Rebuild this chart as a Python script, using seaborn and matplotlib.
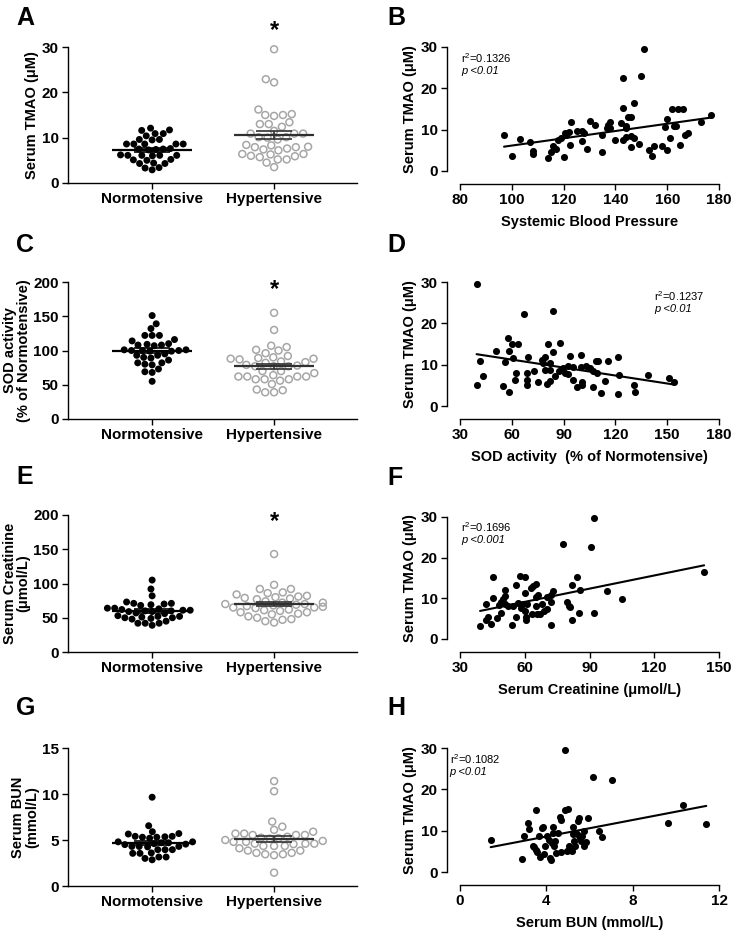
import matplotlib
matplotlib.use('Agg')
import matplotlib.pyplot as plt
import numpy as np
import pandas as pd
import seaborn as sns

# Group dot plots (left column)
groups = ['Normotensive', 'Hypertensive']

tmao_normo = [12.1, 11.7, 11.6, 10.9, 10.9, 10.4, 9.6, 9.6, 9.5, 8.6, 8.6, 8.6, 8.6, 8.6, 7.5, 7.4, 7.6,
              7.3, 7.5, 6.1, 6.1, 6.1, 6.0, 6.1, 6.2, 5.2, 5.1, 5.0, 4.3, 4.4, 4.3, 3.4, 3.3, 2.9]
tmao_hyper = [29.5, 22.9, 22.2, 16.2, 15.2, 15.0, 15.0, 14.8, 13.4, 13.0, 13.0, 12.4, 11.5, 10.9, 10.9,
              10.9, 10.1, 10.1, 10.0, 9.6, 8.4, 8.3, 8.0, 7.9, 7.9, 7.6, 7.4, 7.2, 6.4, 6.4, 6.3, 6.0,
              5.9, 5.7, 5.2, 5.2, 4.5, 3.5]

sod_normo = [151, 139, 132, 122, 122, 122, 116, 114, 110, 109, 108, 108, 107, 101, 100, 100, 99, 100,
             101, 99, 93, 93, 95, 90, 89, 86, 82, 82, 80, 79, 73, 68, 69, 55]
sod_hyper = [155, 130, 107, 105, 101, 100, 96, 92, 90, 89, 88, 88, 87, 84, 83, 82, 79, 78, 77, 77, 77,
             70, 70, 67, 64, 62, 62, 62, 62, 58, 58, 58, 56, 51, 43, 42, 39, 39]

creat_normo = [105, 92, 82, 73, 71, 71, 70, 69, 68, 64, 64, 63, 62, 61, 61, 60, 60, 59, 59, 57, 56, 53,
               52, 52, 51, 50, 50, 49, 48, 45, 42, 42, 42, 39]
creat_hyper = [143, 98, 92, 92, 87, 86, 84, 82, 81, 80, 79, 78, 77, 74, 72, 72, 70, 70, 69, 68, 67, 66,
               65, 65, 64, 62, 61, 60, 58, 58, 56, 55, 52, 50, 48, 47, 45, 43]

bun_normo = [9.65, 6.55, 5.9, 5.7, 5.65, 5.4, 5.4, 5.35, 5.3, 5.3, 5.2, 4.8, 4.8, 4.7, 4.7, 4.6, 4.55,
             4.5, 4.3, 4.3, 4.3, 4.25, 3.95, 3.95, 3.95, 3.6, 3.55, 3.55, 3.15, 3.15, 3.0, 2.85]
bun_hyper = [11.4, 10.3, 7.0, 6.45, 6.1, 5.9, 5.7, 5.7, 5.55, 5.55, 5.55, 5.35, 5.25, 5.2, 5.15, 5.0,
             4.9, 4.8, 4.8, 4.6, 4.6, 4.6, 4.55, 4.35, 4.35, 4.35, 4.1, 3.85, 3.85, 3.6, 3.6, 3.45,
             3.45, 3.35, 1.45]

# Correlations (right column)
sbp_x = [97, 100, 103, 107, 108, 108, 114, 115, 116, 117, 118, 119, 120, 120.4, 121, 122, 122.3, 123,
         125, 127, 127, 128, 129, 130, 132, 135, 135, 136.6, 137, 138, 138, 140, 142, 143, 143, 143,
         144, 144, 144, 145, 146, 146, 146, 147, 147, 149, 150, 151, 153, 154, 155, 158, 159, 160,
         160, 161, 162, 162.6, 163.5, 164, 165, 166, 167, 168, 173, 177]
sbp_tmao = [8.8, 3.6, 7.7, 6.9, 4.9, 4.2, 3.2, 4.6, 6.1, 5.4, 7.6, 8.1, 3.4, 9.1, 8.7, 9.4, 6.2, 11.9,
            9.7, 9.7, 7.3, 9.1, 5.4, 12.2, 11.1, 8.8, 4.6, 10.3, 11.1, 11.8, 10.5, 7.5, 11.6, 22.5,
            15.3, 7.5, 10.9, 10.3, 8.3, 13.1, 13.1, 8.4, 5.8, 16.4, 8.1, 6.5, 23.0, 29.6, 5.2, 3.6,
            6.0, 6.0, 10.6, 12.6, 5.0, 7.9, 14.9, 10.9, 10.9, 14.9, 6.2, 14.9, 8.7, 9.1, 11.8, 13.5]

sod_x = [39.6, 39.8, 41.8, 43.1, 50.6, 54.7, 55.8, 57.8, 58.3, 58.5, 60.3, 60.6, 62.2, 61.6, 63.7,
         66.8, 68.6, 68.6, 68.6, 69.5, 73.0, 75.3, 77.6, 78.0, 79.5, 79.5, 80.3, 81.1, 82.0, 82.2,
         82.4, 83.8, 83.8, 85.3, 87.1, 87.8, 89.4, 91.0, 92.3, 93.6, 92.7, 95.4, 95.5, 97.7, 99.8,
         100.2, 100.8, 100.8, 103.1, 105.2, 107.3, 107.3, 108.5, 109.6, 109.8, 111.7, 114.1, 115.8,
         121.6, 121.4, 121.8, 130.6, 131.6, 138.7, 151.1, 153.8]
sod_tmao = [29.6, 5.0, 10.9, 7.3, 13.4, 4.8, 10.6, 16.4, 3.5, 13.2, 14.9, 11.6, 8.0, 6.4, 14.9, 22.3,
            5.2, 6.2, 7.9, 11.8, 8.5, 5.8, 11.1, 10.5, 11.9, 8.7, 5.3, 15.0, 8.7, 10.5, 6.0, 23.1,
            13.1, 7.2, 8.4, 15.3, 9.1, 8.0, 7.7, 12.1, 9.7, 9.5, 6.2, 4.5, 12.4, 9.5, 5.8, 5.0, 9.7,
            9.3, 8.5, 4.5, 10.8, 8.0, 10.9, 3.2, 6.1, 10.9, 11.8, 3.0, 7.5, 5.0, 3.5, 7.5, 6.7, 5.8]

creat_x = [39.3, 42.0, 42.0, 43.0, 44.2, 45.1, 45.1, 47.0, 48.2, 48.8,
           49.1, 50.1, 50.8, 50.8, 50.8, 52.4, 53.9, 54.4, 55.9, 55.9,
           57.0, 57.8, 58.2, 59.3, 60.1, 60.1, 60.1, 60.5, 60.8, 61.2,
           63.0, 63.2, 63.9, 65.0, 65.0, 65.0, 65.8, 66.2, 67.0, 68.1,
           68.9, 70.1, 70.1, 72.0, 72.1, 72.1, 72.9, 77.8, 79.8, 80.6,
           80.9, 82.0, 82.0, 84.0, 85.1, 85.8, 90.9, 92.0, 92.0, 98.2,
           105.1, 143.1]
creat_tmao = [3.3, 8.6, 4.7, 5.5, 3.7, 15.2, 10.0, 5.1, 8.4, 6.5,
              9.2, 9.8, 10.6, 12.1, 8.6, 8.1, 3.4, 8.2, 5.4, 13.3,
              8.8, 15.5, 7.6, 8.6, 15.3, 11.2, 6.8, 5.5, 4.7, 8.6,
              12.5, 6.2, 13.0, 13.5, 10.3, 8.0, 6.2, 10.8, 6.2, 8.6,
              6.8, 7.4, 10.4, 9.0, 3.5, 10.8, 11.9, 23.3, 9.2, 8.1,
              7.8, 13.3, 4.6, 15.2, 6.5, 12.1, 22.7, 29.8, 6.4, 11.8,
              9.9, 16.5]

bun_x = [1.42, 2.85, 2.98, 3.16, 3.19, 3.36, 3.44, 3.50, 3.50, 3.55,
         3.67, 3.70, 3.81, 3.86, 3.89, 3.93, 4.01, 4.12, 4.16, 4.20,
         4.24, 4.29, 4.32, 4.35, 4.40, 4.47, 4.55, 4.63, 4.66, 4.69,
         4.86, 4.87, 4.94, 5.01, 5.04, 5.17, 5.24, 5.24, 5.28, 5.32,
         5.40, 5.45, 5.50, 5.55, 5.60, 5.65, 5.74, 5.75, 5.83, 5.91,
         6.14, 6.43, 6.59, 7.03, 9.63, 10.32, 11.41]
bun_tmao = [7.8, 3.2, 8.6, 11.9, 10.5, 6.4, 6.0, 15.1, 5.4, 4.8,
            8.6, 3.6, 10.6, 10.9, 4.4, 6.2, 8.8, 7.7, 3.4, 3.0,
            7.0, 9.4, 11.0, 6.2, 7.4, 4.6, 9.4, 13.3, 12.7, 4.8,
            14.9, 29.4, 5.0, 15.3, 6.2, 5.0, 11.0, 9.3, 7.4, 6.2,
            9.3, 12.3, 13.1, 8.2, 7.4, 8.6, 6.2, 9.8, 7.2, 13.1,
            23.0, 10.0, 8.5, 22.3, 11.9, 16.3, 11.6]

sns.set_theme(style='ticks')
plt.rcParams['font.family'] = ['Liberation Sans', 'DejaVu Sans']
plt.rcParams['mathtext.fontset'] = 'custom'
plt.rcParams['mathtext.rm'] = 'Liberation Sans'
plt.rcParams['axes.linewidth'] = 1.0
plt.rcParams['axes.edgecolor'] = 'black'
plt.rcParams['text.color'] = 'black'
plt.rcParams['axes.labelcolor'] = 'black'
plt.rcParams['xtick.color'] = 'black'
plt.rcParams['ytick.color'] = 'black'

W, H = 733, 933
fig = plt.figure(figsize=(W / 100, H / 100), dpi=100)


def px_axes(left, top, right, bottom):
    return fig.add_axes([left / W, 1 - bottom / H, (right - left) / W, (bottom - top) / H])


def style_ticks(ax):
    ax.tick_params(direction='out', length=4, width=1.0, colors='black', labelsize=11, pad=2.5)
    for lab in ax.get_xticklabels() + ax.get_yticklabels():
        lab.set_fontweight('bold')
    sns.despine(ax=ax)


def strip_panel(ax, normo, hyper, ymax, yticks, ylabel, star):
    df = pd.DataFrame({'group': [groups[0]] * len(normo) + [groups[1]] * len(hyper),
                       'value': list(normo) + list(hyper)})
    sns.swarmplot(data=df, x='group', y='value', order=groups, hue='group', hue_order=groups,
                  palette={groups[0]: 'black', groups[1]: '#a6a6a6'}, size=5, ax=ax,
                  legend=False, clip_on=False, linewidth=0)
    pts = ax.collections[1]
    pts.set_facecolor('none')
    pts.set_edgecolor('#a6a6a6')
    pts.set_linewidth(1.1)
    for i, (vals, col) in enumerate([(normo, 'black'), (hyper, '#303030')]):
        m = np.mean(vals)
        se = np.std(vals, ddof=1) / np.sqrt(len(vals))
        ax.hlines(m, i - 0.33, i + 0.33, color=col, lw=1.6, zorder=5)
        ax.errorbar(i, m, yerr=se, color=col, capsize=13, capthick=1.2, lw=1.2, zorder=5)
    ax.set_xlim(-0.69, 1.68)
    ax.set_ylim(0, ymax)
    ax.set_yticks(yticks)
    ax.set_xlabel('')
    ax.set_ylabel(ylabel, fontsize=10.5, fontweight='bold', labelpad=2, linespacing=1.0)
    if star is not None:
        ax.text(1, star, '*', ha='center', va='center', fontsize=17, fontweight='bold',
                clip_on=False)
    style_ticks(ax)


def reg_panel(ax, x, y, xlim, xticks, xlabel, r2, p, text_pos):
    sns.regplot(x=np.array(x), y=np.array(y), ax=ax, ci=None, color='black',
                scatter_kws={'s': 26, 'linewidths': 0, 'clip_on': False, 'alpha': 1},
                line_kws={'lw': 1.5})
    ax.set_xlim(*xlim)
    ax.set_ylim(0, 30)
    ax.set_xticks(xticks)
    ax.set_yticks([0, 10, 20, 30])
    ax.set_xlabel(xlabel, fontsize=10.5, fontweight='bold', labelpad=6)
    ax.set_ylabel('Serum TMAO (\u03bcM)', fontsize=10.5, fontweight='bold', labelpad=3)
    ax.spines['left'].set_position(('outward', 9.4))
    ax.spines['bottom'].set_position(('outward', 9.4))
    tx, ty = text_pos
    ax.text(tx, ty, 'r$^{2}$=' + r2, transform=ax.transAxes, fontsize=8, va='top')
    ax.text(tx, ty - 0.12, p, transform=ax.transAxes, fontsize=8, va='top', style='italic')
    style_ticks(ax)


ax_a = px_axes(68, 47, 357, 183)
strip_panel(ax_a, tmao_normo, tmao_hyper, 30, [0, 10, 20, 30], 'Serum TMAO (\u03bcM)', 33.7)
ax_c = px_axes(68, 282, 357, 419)
strip_panel(ax_c, sod_normo, sod_hyper, 200, [0, 50, 100, 150, 200],
            'SOD activity\n(% of Normotensive)', 189)
ax_e = px_axes(68, 515, 357, 652)
strip_panel(ax_e, creat_normo, creat_hyper, 200, [0, 50, 100, 150, 200],
            'Serum Creatinine\n(\u03bcmol/L)', 191)
ax_g = px_axes(68, 748, 357, 886)
strip_panel(ax_g, bun_normo, bun_hyper, 15, [0, 5, 10, 15], 'Serum BUN\n(mmol/L)', None)

ax_b = px_axes(460, 47, 719, 171)
reg_panel(ax_b, sbp_x, sbp_tmao, (80, 180), np.arange(80, 181, 20), 'Systemic Blood Pressure',
          '0.1326', 'p <0.01', (0.005, 0.97))
ax_d = px_axes(460, 282, 719, 406)
reg_panel(ax_d, sod_x, sod_tmao, (30, 180), np.arange(30, 181, 30),
          'SOD activity  (% of Normotensive)', '0.1237', 'p <0.01', (0.75, 0.94))
ax_f = px_axes(460, 517, 719, 639)
reg_panel(ax_f, creat_x, creat_tmao, (30, 150), np.arange(30, 151, 30),
          'Serum Creatinine (\u03bcmol/L)', '0.1696', 'p <0.001', (0.005, 0.97))
ax_h = px_axes(460, 748, 719, 872)
reg_panel(ax_h, bun_x, bun_tmao, (0, 12), [0, 4, 8, 12], 'Serum BUN (mmol/L)',
          '0.1082', 'p <0.01', (-0.04, 0.97))

# panel letters
letters = [('A', 16, 25), ('B', 387, 25), ('C', 16, 252), ('D', 387, 252),
           ('E', 16, 484), ('F', 387, 485), ('G', 16, 715), ('H', 387, 715)]
for s, lx, ly in letters:
    fig.text(lx / W, 1 - ly / H, s, fontsize=18, fontweight='bold', ha='left', va='baseline')

fig.savefig('out.png', dpi=100)
